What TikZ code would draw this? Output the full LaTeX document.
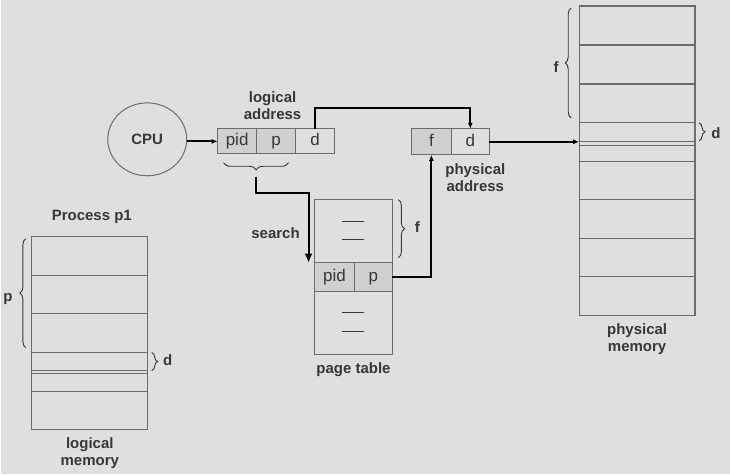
\documentclass[tikz,border=0pt]{standalone}
\usepackage{fontspec}
\setmainfont{Liberation Sans}
\usetikzlibrary{arrows.meta,positioning,shapes.geometric,decorations.pathreplacing}
\definecolor{bg}{HTML}{DFDFDF}
\definecolor{cellfill}{HTML}{D0D0D0}
\definecolor{edge}{HTML}{6C6C6C}
\definecolor{ink}{HTML}{3A3631}

\begin{document}
\begin{tikzpicture}[x=1pt,y=-1pt,>={Latex[length=6pt,width=5pt]}]
  \tikzstyle{cell}=[draw=edge,line width=1pt,minimum height=25pt,minimum width=39pt,
    inner sep=0pt,outer sep=0pt,text height=12pt,text depth=3.5pt,text=ink,
    font=\fontsize{17}{17}\selectfont]
  \tikzstyle{lbl}=[align=center,text=ink,font=\bfseries\fontsize{15}{17}\selectfont]
  \tikzstyle{link}=[->,line width=2pt,black]
  \tikzstyle{mem}=[draw=edge,line width=1.2pt,inner sep=0pt,outer sep=0pt]
  \tikzstyle{brc}=[decorate,decoration={brace,amplitude=6pt},draw=ink,line width=0.9pt]

  \fill[bg] (0,0) rectangle (730,475);

  % cpu and addresses
  \node[ellipse,draw=edge,line width=1pt,minimum width=79pt,minimum height=73pt,lbl] (cpu) at (146.5,139.5) {CPU};
  \node[cell,fill=cellfill]              (lpid) at (236.5,141.5) {pid};
  \node[cell,fill=cellfill,right=0pt of lpid] (lp) {p};
  \node[cell,right=0pt of lp]            (ld) {d};
  \node[lbl] (laddr) at (272,106) {logical\\address};

  \node[cell,fill=cellfill,minimum width=40pt,minimum height=26pt] (pf) at (431,142) {f};
  \node[cell,minimum width=38pt,minimum height=26pt,right=0pt of pf] (pd) {d};
  \node[lbl] (paddr) at (475,178) {physical\\address};

  % page table
  \node[mem,minimum width=78pt,minimum height=155pt] (ptab) at (353,277.5) {};
  \node[cell,fill=cellfill,minimum width=40pt,minimum height=29pt] (tpid) at (334,277.5) {pid};
  \node[cell,fill=cellfill,minimum width=38pt,minimum height=29pt,right=0pt of tpid] (tp) {p};
  \foreach \y in {222,240,313,332}
    \draw[ink,line width=1.3pt] (342,\y) -- (364,\y);
  \node[lbl] (ptlbl) at (353,370) {page table};
  \draw[brc] (398,200) -- (398,258);
  \node[lbl] (ptf) at (417,227) {f};

  % logical memory
  \node[mem,minimum width=116pt,minimum height=193pt] (lmem) at (89,333.5) {};
  \foreach \y in {276,314,353,371,374,392}
    \draw[edge,line width=1.2pt] (lmem.west |- 0,\y) -- (lmem.east |- 0,\y);
  \node[lbl] (proc) at (91,217) {Process p1};
  \node[lbl] (lmlbl) at (89,454) {logical\\memory};
  \draw[brc] (25,348) -- (25,239);
  \node[lbl] (lmp) at (7,299) {p};
  \draw[brc] (151,353) -- (151,371);
  \node[lbl] (lmd) at (167,361) {d};

  % physical memory
  \node[mem,minimum width=116pt,minimum height=310pt] (pmem) at (637,161) {};
  \foreach \y in {45,84,123,142,146,162,200,239,277}
    \draw[edge,line width=1.2pt] (pmem.west |- 0,\y) -- (pmem.east |- 0,\y);
  \node[lbl] (pmlbl) at (637,340) {physical\\memory};
  \draw[brc] (571,118) -- (571,8);
  \node[lbl] (pmf) at (556,67) {f};
  \draw[brc] (699,123) -- (699,141);
  \node[lbl] (pmd) at (716,133) {d};

  % connectors
  \draw[brc,decoration={amplitude=7pt}] (288,163) -- (223,163);
  \coordinate (bt) at (255.5,177);
  \coordinate (hop) at (0,108);
  \coordinate (sr) at (308,193);
  \draw[link] (cpu.east |- lpid.west) -- (lpid.west);
  \draw[link] (ld.north) |- (hop -| pd.north) -- (pd.north);
  \draw[link,-{Latex[length=9pt,width=8pt]}] (bt) |- (sr) -- (sr |- tpid.north);
  \node[lbl] (srch) at (275,233) {search};
  \draw[link] (tp.east) -| (pf.south);
  \draw[link] (pd.east) -- (pd.east -| pmem.west);
\end{tikzpicture}
\end{document}
